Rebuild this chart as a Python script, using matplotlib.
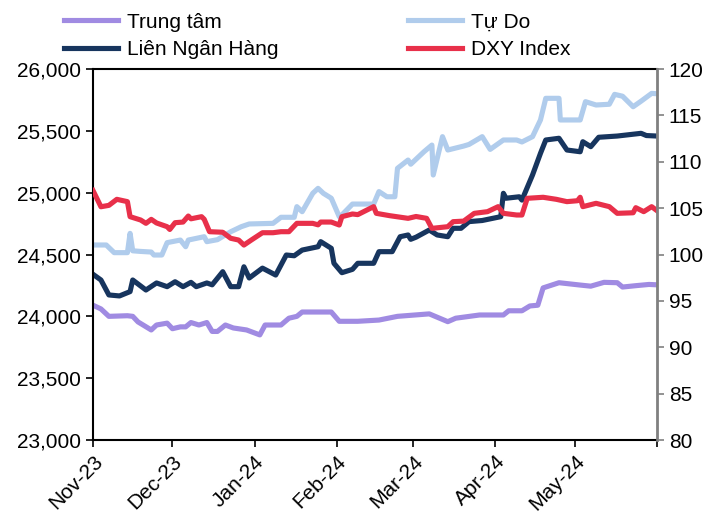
import pandas as pd
import matplotlib
matplotlib.use("Agg")
import matplotlib.pyplot as plt
from matplotlib.ticker import FuncFormatter

plt.rcParams['font.family'] = ['Liberation Sans', 'DejaVu Sans']

start = pd.Timestamp('2023-11-01')

# ngay tinh tu 01/11/2023 va gia tri doc tu hinh
tt_days = [0, 3, 6, 13, 15, 17, 22, 24, 28, 30, 33, 35, 37, 40, 43, 45, 47, 50, 53, 58, 63, 65,
           71, 74, 77, 79, 87, 90, 93, 100, 108, 115, 127, 134, 137, 146, 155, 157, 162, 165,
           168, 170, 176, 184, 188, 193, 198, 200, 205, 210, 213]
tt_vals = [24090, 24060, 24000, 24005, 24000, 23955, 23890, 23930, 23945, 23900, 23915, 23915,
           23950, 23930, 23950, 23878, 23878, 23930, 23906, 23890, 23850, 23930, 23930, 23985,
           24000, 24035, 24035, 24035, 23960, 23960, 23970, 24000, 24020, 23957, 23985, 24011,
           24011, 24045, 24045, 24084, 24090, 24230, 24272, 24253, 24244, 24275, 24272, 24237,
           24248, 24258, 24255]

lnh_days = [0, 3, 6, 10, 14, 15, 20, 24, 28, 31, 34, 37, 39, 43, 45, 49, 52, 55, 57, 59, 64, 69,
            73, 76, 79, 85, 86, 90, 91, 94, 98, 100, 106, 108, 113, 116, 119, 120, 122, 127, 130,
            134, 136, 139, 142, 147, 154, 155, 156, 161, 162, 166, 169, 171, 176, 179, 184, 185,
            188, 191, 198, 207, 209, 213]
lnh_vals = [24340, 24294, 24173, 24165, 24200, 24294, 24213, 24270, 24240, 24280, 24240, 24275,
            24240, 24270, 24255, 24361, 24240, 24240, 24401, 24310, 24390, 24334, 24496, 24490,
            24536, 24563, 24604, 24550, 24429, 24353, 24380, 24429, 24429, 24523, 24523, 24644,
            24658, 24623, 24640, 24698, 24658, 24644, 24712, 24712, 24766, 24775, 24806, 24995,
            24955, 24967, 24940, 25143, 25318, 25426, 25440, 25345, 25331, 25412, 25372, 25448,
            25458, 25480, 25462, 25458]

td_days = [0, 5, 8, 13, 14, 15, 18, 22, 23, 26, 28, 33, 35, 36, 42, 43, 47, 52, 56, 59, 68, 71,
           76, 77, 79, 83, 85, 87, 90, 93, 94, 98, 106, 108, 111, 114, 115, 119, 120, 125, 128,
           128.5, 132, 134, 140, 142, 147, 150, 155, 160, 162, 166, 169, 171, 176, 176.5, 184,
           186, 190, 195, 197, 200, 204, 207, 211, 213]
td_vals = [24577, 24577, 24515, 24515, 24671, 24530, 24525, 24520, 24496, 24496, 24596, 24617,
           24563, 24617, 24644, 24604, 24620, 24684, 24725, 24747, 24752, 24801, 24801, 24887,
           24846, 24995, 25035, 24995, 24955, 24806, 24820, 24908, 24908, 25009, 24967, 24967,
           25197, 25264, 25230, 25331, 25385, 25143, 25453, 25345, 25377, 25390, 25453, 25350,
           25426, 25426, 25410, 25453, 25588, 25763, 25763, 25588, 25588, 25736, 25709, 25715,
           25795, 25780, 25695, 25740, 25803, 25800]

dxy_days = [0, 3, 6, 9, 13, 14, 18, 20, 22, 24, 28, 29, 31, 34, 36, 37, 41, 42, 44, 49, 52, 55,
            57, 60, 64, 68, 71, 74, 77, 83, 85, 86, 90, 93, 94, 98, 100, 103, 106, 107, 112, 119,
            122, 126, 128, 134, 136, 140, 144, 149, 153, 155, 160, 162, 164, 170, 175, 179, 183,
            184, 185, 190, 195, 198, 204, 205, 208, 211, 213]
dxy_vals = [106.9, 105.15, 105.3, 105.95, 105.7, 104.08, 103.72, 103.36, 103.79, 103.4, 103.0,
            102.7, 103.43, 103.5, 104.15, 103.85, 104.08, 103.8, 102.46, 102.4, 101.75, 101.56,
            101.02, 101.6, 102.35, 102.35, 102.46, 102.46, 103.36, 103.36, 103.2, 103.5, 103.5,
            103.18, 104.08, 104.37, 104.3, 104.73, 105.16, 104.44, 104.19, 103.9, 104.1, 103.9,
            102.82, 103.0, 103.54, 103.6, 104.44, 104.62, 105.16, 104.44, 104.26, 104.26, 106.06,
            106.17, 105.95, 105.7, 105.8, 106.17, 105.16, 105.52, 105.16, 104.44, 104.5, 105.05,
            104.62, 105.16, 104.73]


def to_dates(days):
    return start + pd.to_timedelta(days, unit='D')


fig = plt.figure(figsize=(7.11, 5.15), dpi=100)
ax = fig.add_axes([0.1308, 0.1456, 0.7932, 0.7204])
ax2 = ax.twinx()

lw = 3.7
l1, = ax.plot(to_dates(tt_days), tt_vals, color='#A08BE2', lw=lw, label='Trung tâm')
l3, = ax.plot(to_dates(td_days), td_vals, color='#B0CCEC', lw=lw, label='Tự Do')
l2, = ax.plot(to_dates(lnh_days), lnh_vals, color='#17355E', lw=lw, label='Liên Ngân Hàng')
l4, = ax2.plot(to_dates(dxy_days), dxy_vals, color='#E8304A', lw=lw, label='DXY Index')

ax.set_ylim(23000, 26000)
ax.set_yticks(range(23000, 26001, 500))
ax.yaxis.set_major_formatter(FuncFormatter(lambda v, p: f'{int(v):,}'))
ax2.set_ylim(80, 120)
ax2.set_yticks(range(80, 121, 5))

ax.set_xlim(start, start + pd.Timedelta(days=213))
months = pd.date_range('2023-11-01', '2024-06-01', freq='MS')
ax.set_xticks(months)
ax.set_xticklabels([m.strftime('%b-%y') for m in months[:-1]] + [''], rotation=45,
                   ha='right', rotation_mode='anchor')

fs = 15
ax.tick_params(axis='both', labelsize=fs, length=5, width=1.2, color='black')
ax2.tick_params(axis='y', labelsize=fs, length=5, width=1.2, color='#808080')
for s in ['left', 'bottom', 'top']:
    ax.spines[s].set_linewidth(1.5)
    ax2.spines[s].set_visible(False)
ax.spines['right'].set_visible(False)
ax2.spines['right'].set_color('#808080')
ax2.spines['right'].set_linewidth(2)

fig.legend(handles=[l1, l2, l3, l4], ncol=2, loc='upper left', bbox_to_anchor=(0.063, 1.012),
           frameon=False, fontsize=fs, handlelength=2.6, columnspacing=6.2, labelspacing=0.4,
           handletextpad=0.45)

fig.savefig('out.png', dpi=100)
